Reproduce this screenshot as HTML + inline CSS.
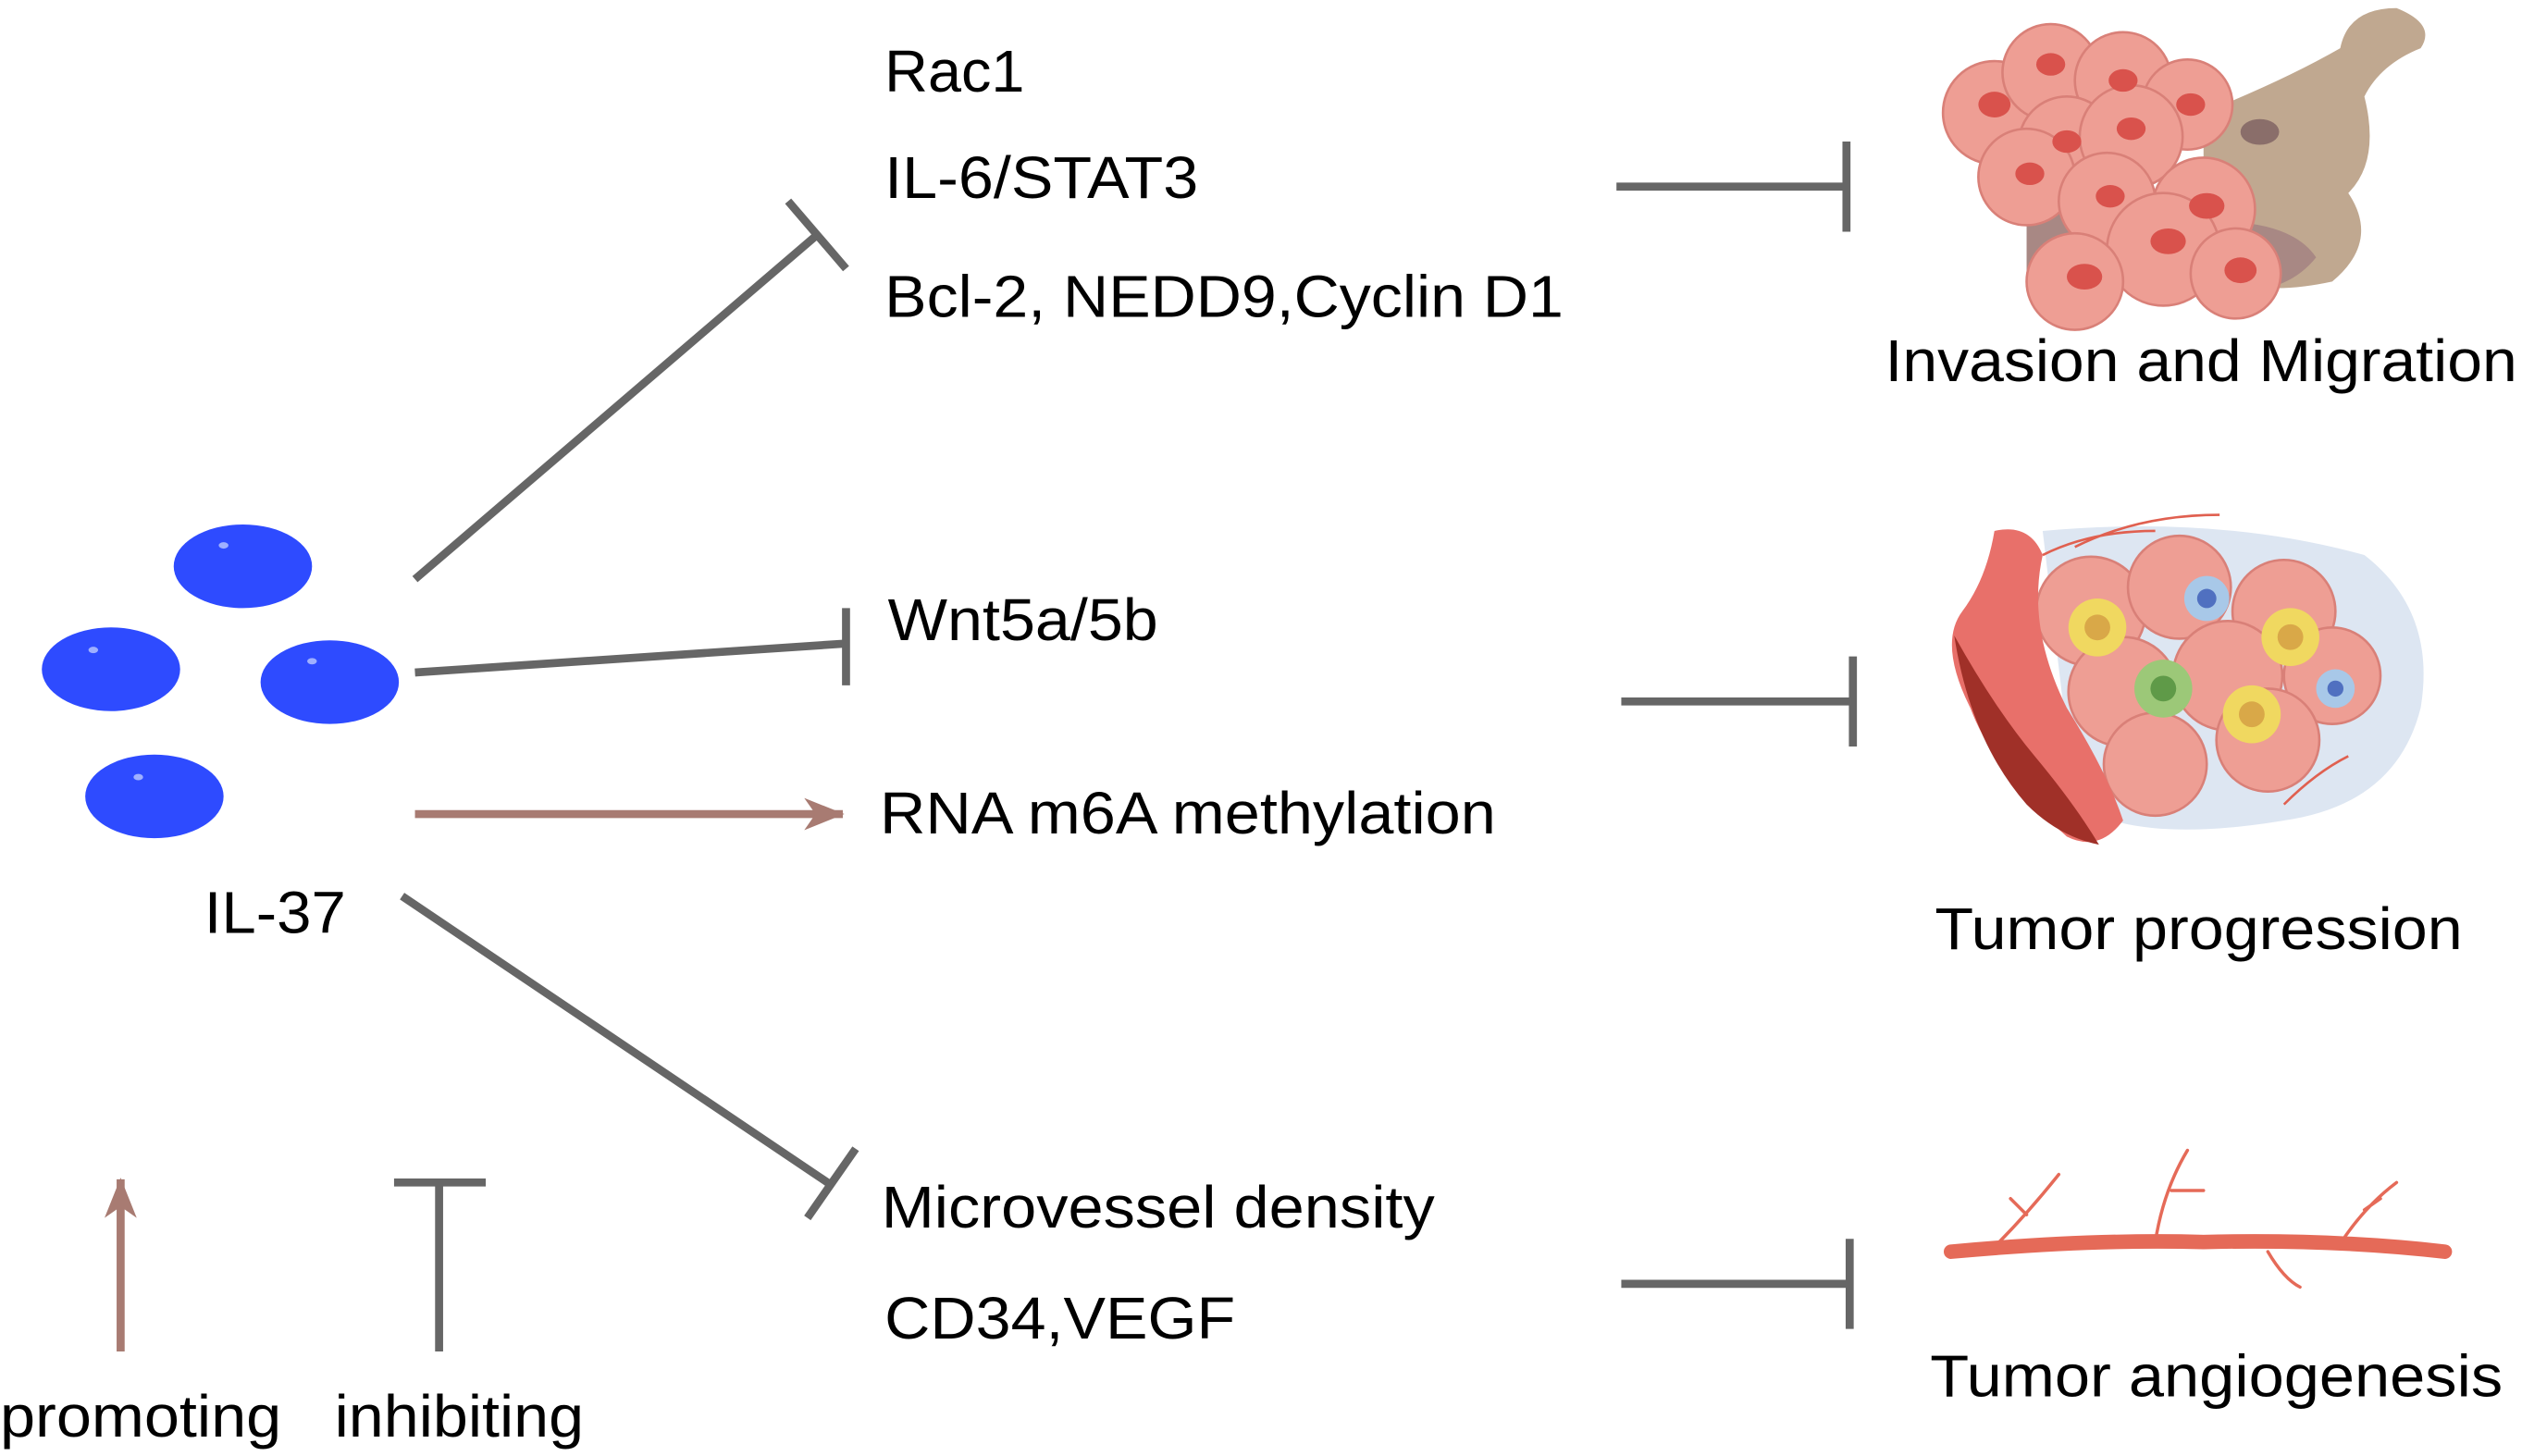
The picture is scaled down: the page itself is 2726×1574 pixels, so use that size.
<!DOCTYPE html>
<html><head><meta charset="utf-8"><style>
html,body{margin:0;padding:0;background:#fff;}
svg{display:block;}
text{font-family:"Liberation Sans",Arial,sans-serif;fill:#000;}
</style></head><body>
<svg width="2726" height="1574" viewBox="0 0 1568 905" preserveAspectRatio="none" xmlns="http://www.w3.org/2000/svg">
<defs>
<marker id="ah" markerWidth="26" markerHeight="22" refX="24" refY="11" orient="auto" markerUnits="userSpaceOnUse">
<path d="M0,1 L25,11 L0,21 L7,11 Z" fill="#a87b72"/></marker>
</defs>
<g fill="#2e4bff">
<ellipse cx="151" cy="352" rx="43" ry="26"/>
<ellipse cx="69" cy="416" rx="43" ry="26"/>
<ellipse cx="205" cy="424" rx="43" ry="26"/>
<ellipse cx="96" cy="495" rx="43" ry="26"/>
</g>
<g fill="#9fb0ff"><ellipse cx="139" cy="339" rx="3" ry="2"/><ellipse cx="58" cy="404" rx="3" ry="2"/><ellipse cx="194" cy="411" rx="3" ry="2"/><ellipse cx="86" cy="483" rx="3" ry="2"/></g>
<g stroke="#666" stroke-width="5" fill="none">
<line x1="258" y1="360" x2="508" y2="146"/>
<line x1="490" y1="125" x2="526" y2="167"/>
<line x1="258" y1="418" x2="526" y2="400"/>
<line x1="526" y1="378" x2="526" y2="426"/>
<line x1="250" y1="557" x2="516" y2="736"/>
<line x1="502" y1="757" x2="532" y2="714"/>
<line x1="1005" y1="116" x2="1148" y2="116"/><line x1="1148" y1="88" x2="1148" y2="144"/>
<line x1="1008" y1="436" x2="1152" y2="436"/><line x1="1152" y1="408" x2="1152" y2="464"/>
<line x1="1008" y1="798" x2="1150" y2="798"/><line x1="1150" y1="770" x2="1150" y2="826"/>
<line x1="273" y1="840" x2="273" y2="735"/><line x1="245" y1="735" x2="302" y2="735"/>
</g>
<line x1="258" y1="506" x2="524" y2="506" stroke="#a87b72" stroke-width="5" marker-end="url(#ah)"/>
<line x1="75" y1="840" x2="75" y2="733" stroke="#a87b72" stroke-width="5" marker-end="url(#ah)"/>
<!-- invasion illustration -->
<path d="M1370,70 Q1420,50 1455,30 Q1460,5 1490,5 Q1515,15 1505,30 Q1480,40 1470,60 Q1480,100 1460,120 Q1480,150 1450,175 Q1380,190 1370,150 Z" fill="#c0a890"/>
<path d="M1260,140 Q1300,120 1340,140 Q1420,130 1440,160 Q1420,185 1380,180 Q1300,170 1260,170 Z" fill="#a88884"/>
<g fill="#ee9e94" stroke="#d98078" stroke-width="1.5">
<circle cx="1240" cy="70" r="32"/><circle cx="1275" cy="45" r="30"/><circle cx="1320" cy="50" r="30"/><circle cx="1360" cy="65" r="28"/>
<circle cx="1285" cy="90" r="30"/><circle cx="1325" cy="85" r="32"/><circle cx="1260" cy="110" r="30"/><circle cx="1310" cy="125" r="30"/>
<circle cx="1370" cy="130" r="32"/><circle cx="1345" cy="155" r="35"/><circle cx="1290" cy="175" r="30"/><circle cx="1390" cy="170" r="28"/>
</g>
<g fill="#d9524c">
<ellipse cx="1240" cy="65" rx="10" ry="8"/><ellipse cx="1275" cy="40" rx="9" ry="7"/><ellipse cx="1320" cy="50" rx="9" ry="7"/><ellipse cx="1362" cy="65" rx="9" ry="7"/>
<ellipse cx="1285" cy="88" rx="9" ry="7"/><ellipse cx="1325" cy="80" rx="9" ry="7"/><ellipse cx="1262" cy="108" rx="9" ry="7"/><ellipse cx="1312" cy="122" rx="9" ry="7"/>
<ellipse cx="1372" cy="128" rx="11" ry="8"/><ellipse cx="1348" cy="150" rx="11" ry="8"/><ellipse cx="1296" cy="172" rx="11" ry="8"/><ellipse cx="1393" cy="168" rx="10" ry="8"/>
</g>
<ellipse cx="1405" cy="82" rx="12" ry="8" fill="#8a6e6a"/>
<!-- tumor progression illustration -->
<path d="M1270,330 Q1380,320 1470,345 Q1515,380 1505,440 Q1490,500 1420,510 Q1330,525 1290,500 Z" fill="#dde6f2"/>
<g fill="#ee9e94" stroke="#d98078" stroke-width="1.5">
<circle cx="1300" cy="380" r="34"/><circle cx="1355" cy="365" r="32"/><circle cx="1420" cy="380" r="32"/><circle cx="1450" cy="420" r="30"/>
<circle cx="1320" cy="430" r="34"/><circle cx="1385" cy="420" r="34"/><circle cx="1340" cy="475" r="32"/><circle cx="1410" cy="460" r="32"/>
</g>
<circle cx="1304" cy="390" r="18" fill="#f0d860"/><circle cx="1304" cy="390" r="8" fill="#d9a848"/>
<circle cx="1424" cy="396" r="18" fill="#f0d860"/><circle cx="1424" cy="396" r="8" fill="#d9a848"/>
<circle cx="1400" cy="444" r="18" fill="#f0d860"/><circle cx="1400" cy="444" r="8" fill="#d9a848"/>
<circle cx="1345" cy="428" r="18" fill="#9cc878"/><circle cx="1345" cy="428" r="8" fill="#5f9a48"/>
<circle cx="1372" cy="372" r="14" fill="#a8c8e8"/><circle cx="1372" cy="372" r="6" fill="#5070c0"/>
<circle cx="1452" cy="428" r="12" fill="#a8c8e8"/><circle cx="1452" cy="428" r="5" fill="#5070c0"/>
<path d="M1240,330 Q1262,325 1270,345 Q1260,390 1285,440 Q1310,480 1320,510 Q1305,530 1285,520 Q1240,480 1225,440 Q1205,400 1220,380 Q1235,360 1240,330 Z" fill="#e8706a"/>
<path d="M1215,395 Q1240,440 1265,470 Q1290,500 1305,525 Q1280,520 1260,500 Q1225,460 1215,395 Z" fill="#a03028"/>
<g stroke="#e06050" stroke-width="1.5" fill="none"><path d="M1270,345 Q1300,330 1340,330 M1290,340 Q1330,320 1380,320 M1420,500 Q1440,480 1460,470"/></g>
<!-- angiogenesis -->
<g stroke="#e56a58" fill="none" stroke-linecap="round">
<path d="M1213,778 Q1300,770 1370,772 Q1450,770 1520,778" stroke-width="9"/>
<g stroke-width="2"><path d="M1240,775 Q1260,755 1280,730 M1260,755 L1250,745 M1340,772 Q1345,740 1360,715 M1350,740 L1370,740 M1455,773 Q1470,750 1490,735 M1470,752 L1480,745 M1410,778 Q1420,795 1430,800"/></g>
</g>
<g font-size="37" lengthAdjust="spacingAndGlyphs">
<text x="550" y="57" textLength="87" lengthAdjust="spacingAndGlyphs">Rac1</text>
<text x="550" y="123" textLength="195" lengthAdjust="spacingAndGlyphs">IL-6/STAT3</text>
<text x="550" y="197" textLength="422" lengthAdjust="spacingAndGlyphs">Bcl-2, NEDD9,Cyclin D1</text>
<text x="1172" y="237" textLength="393" lengthAdjust="spacingAndGlyphs">Invasion and Migration</text>
<text x="552" y="398" textLength="168" lengthAdjust="spacingAndGlyphs">Wnt5a/5b</text>
<text x="547" y="518" textLength="383" lengthAdjust="spacingAndGlyphs">RNA m6A methylation</text>
<text x="127" y="580" textLength="88" lengthAdjust="spacingAndGlyphs">IL-37</text>
<text x="1203" y="590" textLength="328" lengthAdjust="spacingAndGlyphs">Tumor progression</text>
<text x="548" y="763" textLength="344" lengthAdjust="spacingAndGlyphs">Microvessel density</text>
<text x="550" y="832" textLength="218" lengthAdjust="spacingAndGlyphs">CD34,VEGF</text>
<text x="1200" y="868" textLength="356" lengthAdjust="spacingAndGlyphs">Tumor angiogenesis</text>
<text x="0" y="893" textLength="175" lengthAdjust="spacingAndGlyphs">promoting</text>
<text x="208" y="893" textLength="155" lengthAdjust="spacingAndGlyphs">inhibiting</text>
</g>
</svg>
</body></html>
